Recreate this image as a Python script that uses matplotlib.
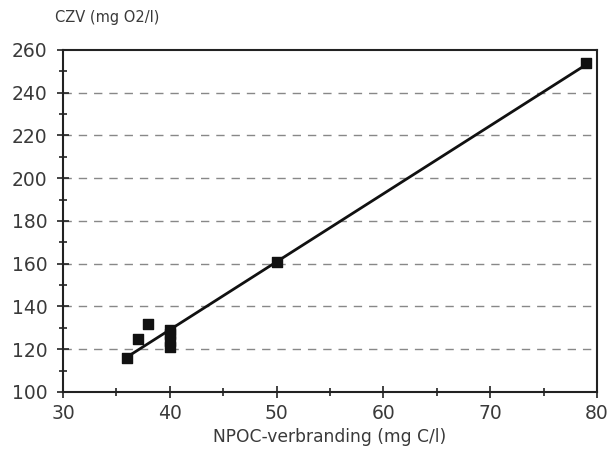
import numpy as np
import matplotlib
matplotlib.use("Agg")
import matplotlib.pyplot as plt
from matplotlib.ticker import MultipleLocator

npoc = [36, 37, 38, 40, 40, 40, 40, 50, 79]
czv = [116, 125, 132, 121, 124, 127, 129, 161, 254]

x_ticks = [30, 40, 50, 60, 70, 80]
y_ticks = [100, 120, 140, 160, 180, 200, 220, 240, 260]

plt.rcParams['font.family'] = ['DejaVu Sans']
fig = plt.figure(figsize=(6.13, 4.5), dpi=100)
ax = fig.add_axes([0.1028, 0.129, 0.871, 0.76])

ax.set_xlim(30, 80)
ax.set_ylim(100, 260)
ax.set_xticks(x_ticks)
ax.set_yticks(y_ticks)
ax.xaxis.set_minor_locator(MultipleLocator(5))
ax.yaxis.set_minor_locator(MultipleLocator(10))
ax.tick_params(axis='both', which='both', direction='inout', length=8, width=1.2, color='#222222',
               labelsize=13.5, labelcolor='#3a3a3a')
ax.tick_params(axis='both', which='minor', length=6)
ax.tick_params(axis='x', pad=5)
ax.tick_params(axis='y', pad=7)
ax.tick_params(top=False, right=False)

for yv in y_ticks[1:-1]:
    ax.axhline(yv, color='#888888', lw=1.0, ls=(0, (6, 5)), zorder=1)

for s in ax.spines.values():
    s.set_linewidth(1.5)
    s.set_color('#222222')

coef = np.polyfit(npoc, czv, 1)
xs = np.array([min(npoc), max(npoc)])
ax.plot(xs, np.polyval(coef, xs), color='#111111', lw=2, zorder=3)
ax.scatter(npoc, czv, marker='s', s=45, color='#111111', zorder=4)

fig.text(0.538, 1 - 437 / 450, 'NPOC-verbranding (mg C/l)', fontsize=12.3, color='#3a3a3a',
         ha='center', va='center')
fig.text(0.09, 0.962, 'CZV (mg O2/l)', fontsize=10.5, color='#3a3a3a', ha='left', va='center')

fig.savefig('out.png', dpi=100)
